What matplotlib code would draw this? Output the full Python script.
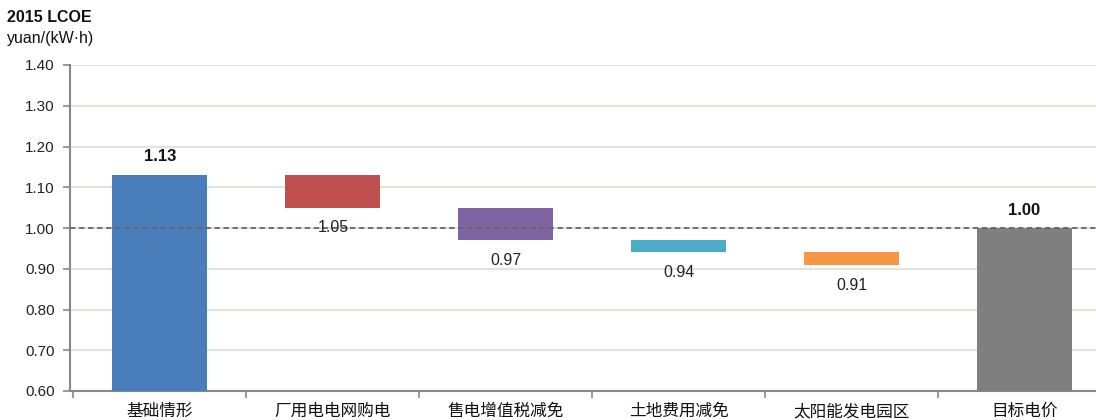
import matplotlib
matplotlib.use("Agg")
import matplotlib.pyplot as plt
from matplotlib.ticker import FixedLocator

plt.rcParams['font.family'] = ['Liberation Sans', 'Noto Sans CJK SC', 'DejaVu Sans']

categories = ["基础情形", "厂用电电网购电", "售电增值税减免", "土地费用减免", "太阳能发电园区", "目标电价"]
base_value = 1.13
step_values = [1.05, 0.97, 0.94, 0.91]   # LCOE after each reduction
target_value = 1.00
colors = ["#4a7ebb", "#c0504d", "#8064a2", "#4bacc6", "#f79646", "#7f7f7f"]
yticks = [0.60, 0.70, 0.80, 0.90, 1.00, 1.10, 1.20, 1.30, 1.40]

W, H = 1096, 420
fig = plt.figure(figsize=(W / 100, H / 100), dpi=100)
left_px, right_px, top_px, bot_px = 70, 1111, 65, 391
ax = fig.add_axes([left_px / W, 1 - bot_px / H, (right_px - left_px) / W, (bot_px - top_px) / H])

x = list(range(len(categories)))
bw = 0.55
ymin = 0.60

# base bar
ax.bar(x[0], base_value - ymin, bottom=ymin, width=bw, color=colors[0], zorder=3)
# floating bars
prev = base_value
for i, v in enumerate(step_values):
    ax.bar(x[i + 1], prev - v, bottom=v, width=bw, color=colors[i + 1], zorder=3)
    ax.text(x[i + 1], v - 0.05, f"{v:.2f}", ha="center", va="center", fontsize=11.5, color="#222222", zorder=5)
    prev = v
# target bar
ax.bar(x[-1], target_value - ymin, bottom=ymin, width=bw, color=colors[-1], zorder=3)

ax.text(x[0], base_value + 0.045, f"{base_value:.2f}", ha="center", va="center", fontsize=12, fontweight="bold", color="#111111")
ax.text(x[-1], target_value + 0.042, f"{target_value:.2f}", ha="center", va="center", fontsize=12, fontweight="bold", color="#111111")

ax.axhline(1.00, color="#666666", linestyle=(0, (3, 2)), linewidth=1.3, zorder=4)

ax.set_xlim(-0.52, len(categories) - 0.5)
ax.set_ylim(0.60, 1.40)
ax.set_yticks(yticks)
ax.set_yticklabels([f"{t:.2f}" for t in yticks], fontsize=11, color="#222222")
ax.yaxis.grid(True, color="#e6e4da", linewidth=1.5, zorder=0)
ax.set_axisbelow(True)

ax.set_xticks(x)
ax.set_xticklabels(categories, fontsize=12, color="#111111")
ax.xaxis.set_minor_locator(FixedLocator([i - 0.5 for i in range(len(categories) + 1)]))
ax.tick_params(axis="x", which="major", length=0, pad=9)
ax.tick_params(axis="x", which="minor", length=5, color="#888888", width=1.2)
ax.tick_params(axis="y", length=5, color="#888888", width=1.2, pad=6)

for s in ["top", "right"]:
    ax.spines[s].set_visible(False)
ax.spines["left"].set_color("#888888")
ax.spines["left"].set_linewidth(1.5)
ax.spines["bottom"].set_color("#888888")
ax.spines["bottom"].set_linewidth(1.5)

fig.text(7 / W, 1 - 18 / H, "2015 LCOE", fontsize=11.5, fontweight="bold", ha="left", va="center", color="#111111")
fig.text(7 / W, 1 - 39 / H, "yuan/(kW·h)", fontsize=11.5, ha="left", va="center", color="#111111")

fig.savefig("out.png", dpi=100)
